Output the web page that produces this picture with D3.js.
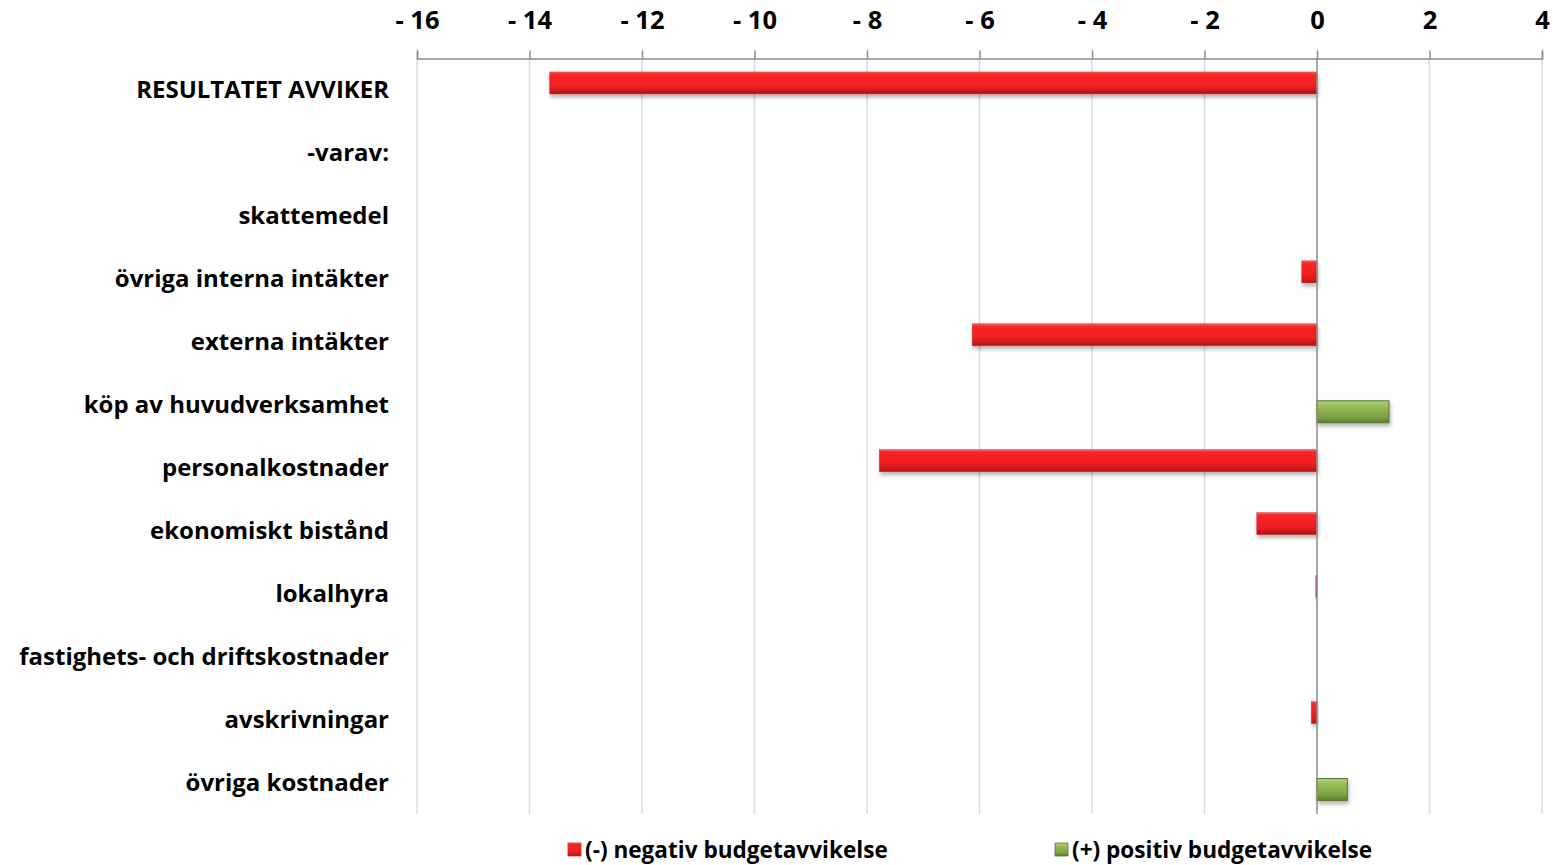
<!DOCTYPE html>
<html>
<head>
<meta charset="utf-8">
<script src="https://cdn.jsdelivr.net/npm/d3@7"></script>
<style>
  body { margin: 0; background: #fff; }
  text { font-family: "Open Sans", Lato, sans-serif; font-weight: bold; fill: #000; }
</style>
</head>
<body>
<div id="chart"></div>
<script>
var categories = ["RESULTATET AVVIKER", "-varav:", "skattemedel", "övriga interna intäkter",
  "externa intäkter", "köp av huvudverksamhet", "personalkostnader", "ekonomiskt bistånd",
  "lokalhyra", "fastighets- och driftskostnader", "avskrivningar", "övriga kostnader"];
var negativeValues = [-13.64, 0, 0, -0.27, -6.13, 0, -7.78, -1.07, -0.02, 0, -0.1, 0];
var positiveValues = [0, 0, 0, 0, 0, 1.28, 0, 0, 0, 0, 0, 0.54];
var tickValues = [-16, -14, -12, -10, -8, -6, -4, -2, 0, 2, 4];
var seriesNames = ["(-) negativ budgetavvikelse", "(+) positiv budgetavvikelse"];

var width = 1553, height = 865;
var margin = {top: 58.5, right: 11, bottom: 51, left: 417};

var svg = d3.select("#chart").append("svg")
    .attr("width", width)
    .attr("height", height);

var defs = svg.append("defs");
var redGrad = defs.append("linearGradient").attr("id", "redGrad")
    .attr("x1", 0).attr("y1", 0).attr("x2", 0).attr("y2", 1);
redGrad.append("stop").attr("offset", "0%").attr("stop-color", "#f86a6a");
redGrad.append("stop").attr("offset", "10%").attr("stop-color", "#f82626");
redGrad.append("stop").attr("offset", "65%").attr("stop-color", "#f01f1f");
redGrad.append("stop").attr("offset", "100%").attr("stop-color", "#b01616");

var greenGrad = defs.append("linearGradient").attr("id", "greenGrad")
    .attr("x1", 0).attr("y1", 0).attr("x2", 0).attr("y2", 1);
greenGrad.append("stop").attr("offset", "0%").attr("stop-color", "#b4d27a");
greenGrad.append("stop").attr("offset", "30%").attr("stop-color", "#93b956");
greenGrad.append("stop").attr("offset", "75%").attr("stop-color", "#7ea144");
greenGrad.append("stop").attr("offset", "100%").attr("stop-color", "#5c7a2c");

var shadow = defs.append("filter").attr("id", "shadow")
    .attr("x", "-10%").attr("y", "-30%").attr("width", "130%").attr("height", "180%");
shadow.append("feDropShadow").attr("dx", 1).attr("dy", 3).attr("stdDeviation", 2)
    .attr("flood-color", "#000").attr("flood-opacity", 0.3);

var plotW = width - margin.left - margin.right;
var plotH = height - margin.top - margin.bottom;

var x = d3.scaleLinear().domain([-16, 4]).range([0, plotW]);
var y = d3.scaleBand().domain(categories).range([0, plotH]);

var g = svg.append("g")
    .attr("transform", "translate(" + margin.left + "," + margin.top + ")");

// scale a text selection so that one reference string gets the wanted width
function fitFont(sel, sample, target, start) {
    sel.style("font-size", start + "px");
    var w = sel.filter(function(d) { return d === sample; }).node().getComputedTextLength();
    sel.style("font-size", (start * target / w) + "px");
}

// gridlines
g.selectAll(".grid")
    .data(tickValues.filter(function(d) { return d !== 0; }))
    .enter().append("line")
    .attr("x1", function(d) { return x(d); })
    .attr("x2", function(d) { return x(d); })
    .attr("y1", 0).attr("y2", plotH)
    .attr("stroke", "#dcdcdc").attr("stroke-width", 1.5);

// top axis
var axis = g.append("g")
    .call(d3.axisTop(x).tickValues(tickValues).tickSize(8).tickPadding(22)
      .tickFormat(function(d) { return d < 0 ? "- " + Math.abs(d) : d; }));
axis.select(".domain").attr("stroke", "#8c8c8c").attr("stroke-width", 1.5);
axis.selectAll(".tick line").attr("stroke", "#8c8c8c").attr("stroke-width", 1.5);
axis.selectAll(".tick text").attr("fill", "#000").attr("font-family", null).attr("font-size", null);
fitFont(axis.selectAll(".tick text"), -14, 44, 22);

var barH = 22, off = 7;

// negative series
g.selectAll(".neg")
    .data(categories.map(function(c, i) { return {c: c, v: negativeValues[i]}; })
      .filter(function(d) { return d.v < 0; }))
    .enter().append("rect")
    .attr("x", function(d) { return x(d.v); })
    .attr("width", function(d) { return x(0) - x(d.v); })
    .attr("y", function(d) { return y(d.c) + y.bandwidth() / 2 - off - barH / 2; })
    .attr("height", barH)
    .attr("fill", "url(#redGrad)")
    .attr("stroke", "#c83030").attr("stroke-width", 0.5)
    .attr("filter", "url(#shadow)");

// positive series
g.selectAll(".pos")
    .data(categories.map(function(c, i) { return {c: c, v: positiveValues[i]}; })
      .filter(function(d) { return d.v > 0; }))
    .enter().append("rect")
    .attr("x", x(0))
    .attr("width", function(d) { return x(d.v) - x(0); })
    .attr("y", function(d) { return y(d.c) + y.bandwidth() / 2 + off - barH / 2; })
    .attr("height", barH)
    .attr("fill", "url(#greenGrad)")
    .attr("stroke", "#5a7530").attr("stroke-width", 1)
    .attr("filter", "url(#shadow)");

// zero line
g.append("line")
    .attr("x1", x(0)).attr("x2", x(0))
    .attr("y1", 0).attr("y2", plotH)
    .attr("stroke", "#8c8c8c").attr("stroke-width", 1.5);

// category labels
var catLabels = g.selectAll(".cat")
    .data(categories)
    .enter().append("text")
    .attr("x", -28)
    .attr("y", function(d) { return y(d) + y.bandwidth() / 2; })
    .attr("dy", "0.35em")
    .attr("text-anchor", "end")
    .text(function(d) { return d; });
fitFont(catLabels, "fastighets- och driftskostnader", 370, 22);

// legend
var legendX = [568, 1055];
var legend = svg.selectAll(".legend")
    .data(seriesNames)
    .enter().append("g")
    .attr("transform", function(d, i) { return "translate(" + legendX[i] + ",843)"; });
legend.append("rect")
    .attr("width", 13).attr("height", 13)
    .attr("fill", function(d, i) { return i === 0 ? "url(#redGrad)" : "url(#greenGrad)"; })
    .attr("stroke", function(d, i) { return i === 0 ? "#c83030" : "#5a7530"; })
    .attr("stroke-width", 0.8);
var legText = legend.append("text")
    .attr("x", 17).attr("y", 7).attr("dy", "0.35em")
    .text(function(d) { return d; });
fitFont(legText, seriesNames[0], 303, 22);
</script>
</body>
</html>
